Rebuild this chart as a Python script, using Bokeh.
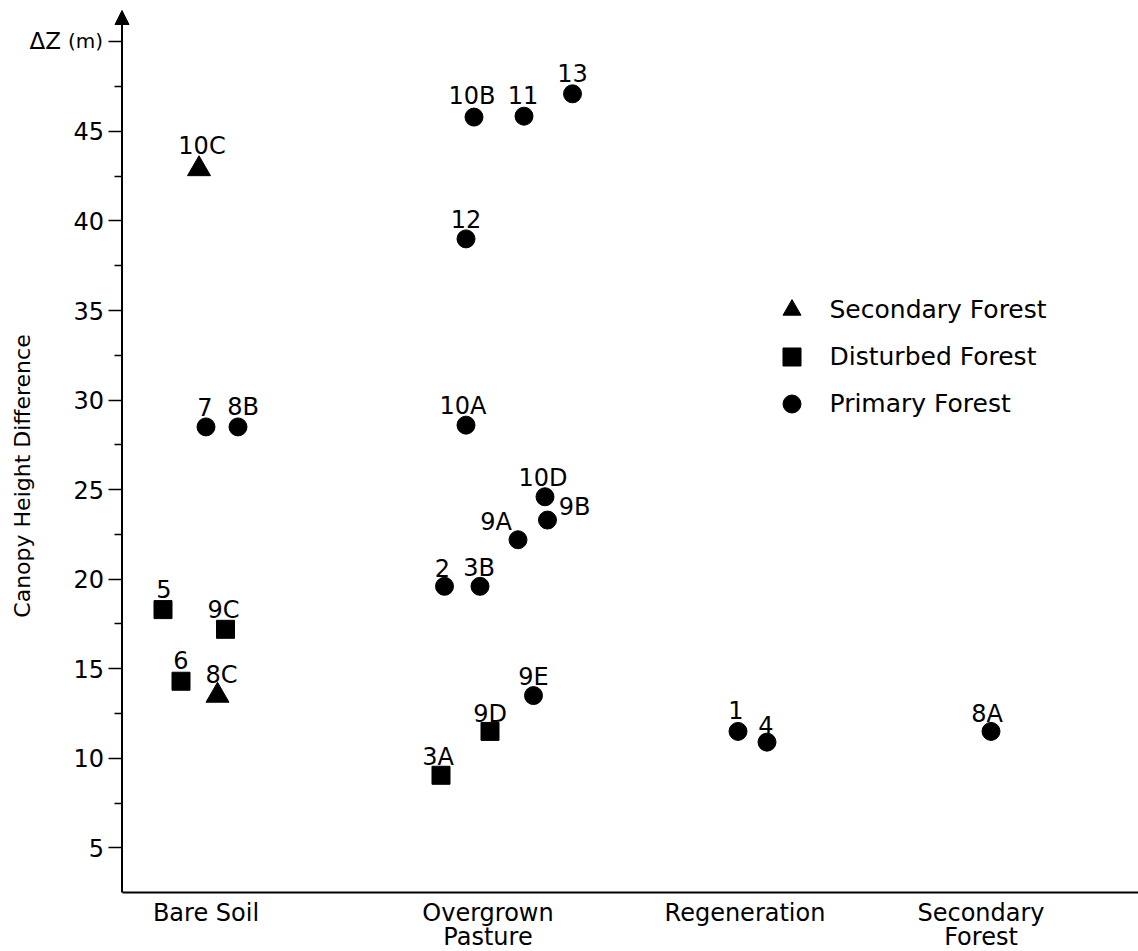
from bokeh.plotting import figure
from bokeh.models import (Range1d, FixedTicker, Legend, LegendItem, Arrow, NormalHead,
                          Label, ColumnDataSource)
from bokeh.core.properties import value
from bokeh.embed import file_html
from bokeh.resources import INLINE

# ---------------- data ----------------
categories = ["Bare Soil", "Overgrown\nPasture", "Regeneration", "Secondary\nForest"]
category_x = [0.84, 3.66, 6.23, 8.59]

sites = ["10C", "7", "8B", "5", "9C", "6", "8C",
         "10B", "11", "13", "12", "10A", "10D", "9B", "9A", "2", "3B", "9E", "9D", "3A",
         "1", "4", "8A"]
site_x = [0.77, 0.84, 1.16, 0.41, 1.035, 0.59, 0.955,
          3.52, 4.02, 4.505, 3.44, 3.44, 4.23, 4.255, 3.96, 3.225, 3.58, 4.115, 3.68, 3.19,
          6.16, 6.45, 8.69]
delta_z = [42.9, 28.5, 28.5, 18.3, 17.2, 14.3, 13.5,
           45.8, 45.85, 47.1, 39.0, 28.6, 24.6, 23.3, 22.2, 19.6, 19.6, 13.5, 11.5, 9.05,
           11.5, 10.9, 11.5]
forest = ["Secondary Forest", "Primary Forest", "Primary Forest", "Disturbed Forest",
          "Disturbed Forest", "Disturbed Forest", "Secondary Forest",
          "Primary Forest", "Primary Forest", "Primary Forest", "Primary Forest",
          "Primary Forest", "Primary Forest", "Primary Forest", "Primary Forest",
          "Primary Forest", "Primary Forest", "Primary Forest", "Disturbed Forest",
          "Disturbed Forest", "Primary Forest", "Primary Forest", "Primary Forest"]

y_ticks = [5, 10, 15, 20, 25, 30, 35, 40, 45, 50]
y_minor_ticks = [7.5, 12.5, 17.5, 22.5, 27.5, 32.5, 37.5, 42.5, 47.5]
y_axis_bottom = 2.5
y_axis_top = 51.75
x_axis_end = 10.165
legend_order = ["Secondary Forest", "Disturbed Forest", "Primary Forest"]

# ---------------- styles ----------------
FONT = "DejaVu Sans"
MARKERS = {"Secondary Forest": ("triangle", 23),
           "Disturbed Forest": ("square", 18),
           "Primary Forest": ("circle", 18)}
# label placement relative to marker, screen px (dx, dy)
LABEL_OFFSET = {"10C": (3, -23), "7": (-1, -20), "8B": (5, -20), "5": (1, -21),
                "9C": (-2, -19), "6": (0, -21), "8C": (4, -21),
                "10B": (-2, -21), "11": (-1, -21), "13": (0, -21), "12": (0, -20),
                "10A": (-3, -19), "10D": (-2, -19), "9B": (27, -13), "9A": (-22, -18),
                "2": (-2, -18), "3B": (-1, -18), "9E": (0, -19), "9D": (0, -17),
                "3A": (-3, -18), "1": (-2, -21), "4": (-1, -17), "8A": (-4, -17)}

p = figure(width=1138, height=951,
           x_range=Range1d(-1.215, 10.165), y_range=Range1d(-0.79, 52.31),
           output_backend="svg", toolbar_location=None,
           min_border_left=0, min_border_right=0, min_border_top=0, min_border_bottom=0)
p.background_fill_color = "white"
p.border_fill_color = "white"
p.outline_line_color = None
p.xgrid.visible = False
p.ygrid.visible = False

# y axis (line drawn by the arrow below)
ya = p.yaxis[0]
ya.fixed_location = 0
ya.ticker = FixedTicker(ticks=y_ticks, minor_ticks=y_minor_ticks)
ya.major_label_overrides = {50: ""}
ya.axis_line_color = None
ya.major_tick_line_width = 1.5
ya.minor_tick_line_width = 1.5
ya.major_tick_out = 14
ya.major_tick_in = 0
ya.minor_tick_out = 8
ya.minor_tick_in = 0
ya.major_label_standoff = 4
ya.major_label_text_font = FONT
ya.major_label_text_font_size = "24px"
ya.major_label_text_color = "black"
ya.axis_label = "Canopy Height Difference"
ya.axis_label_text_font = FONT
ya.axis_label_text_font_size = "22px"
ya.axis_label_text_font_style = "normal"
ya.axis_label_text_color = "black"
ya.axis_label_standoff = 36

# x axis
xa = p.xaxis[0]
xa.fixed_location = y_axis_bottom
xa.bounds = (0, x_axis_end)
xa.ticker = FixedTicker(ticks=category_x, minor_ticks=[])
xa.major_label_overrides = {x: c for x, c in zip(category_x, categories)}
xa.axis_line_width = 2
xa.axis_line_color = "black"
xa.major_tick_out = 0
xa.major_tick_in = 0
xa.minor_tick_out = 0
xa.minor_tick_in = 0
xa.major_label_standoff = 6
xa.major_label_text_font = FONT
xa.major_label_text_font_size = "24px"
xa.major_label_text_color = "black"
xa.major_label_text_line_height = 0.88

# y axis line with arrow head
p.add_layout(Arrow(end=NormalHead(size=14, fill_color="black", line_color="black"),
                   x_start=0, y_start=y_axis_bottom, x_end=0, y_end=y_axis_top,
                   line_width=2, line_color="black"))

# points, one renderer per forest type
legend_items = []
for ftype in legend_order:
    idx = [i for i, f in enumerate(forest) if f == ftype]
    src = ColumnDataSource(dict(x=[site_x[i] for i in idx], y=[delta_z[i] for i in idx]))
    marker, size = MARKERS[ftype]
    r = p.scatter("x", "y", source=src, marker=marker, size=size,
                  fill_color="black", line_color="black")
    legend_items.append(LegendItem(label=ftype, renderers=[r]))

# site labels
lab_src = ColumnDataSource(dict(
    x=site_x, y=delta_z, text=sites,
    dx=[LABEL_OFFSET[s][0] for s in sites],
    dy=[LABEL_OFFSET[s][1] for s in sites]))
p.text("x", "y", text="text", source=lab_src, x_offset="dx", y_offset="dy",
       text_font=value(FONT), text_font_size="24px", text_align="center",
       text_baseline="alphabetic", text_color="black")

legend = Legend(items=legend_items, location=(768.5, 525.5))
legend.glyph_width = 45
legend.glyph_height = 45
legend.spacing = 2
legend.padding = 0
legend.margin = 0
legend.label_standoff = 16
legend.label_text_font = FONT
legend.label_text_font_size = "25px"
legend.label_text_color = "black"
legend.border_line_color = None
legend.background_fill_alpha = 0
p.add_layout(legend, "center")

# axis unit label at the top tick
p.add_layout(Label(x=0, y=50, x_offset=-61, y_offset=1, text="ΔZ",
                   text_align="right", text_baseline="alphabetic",
                   text_font=FONT, text_font_size="23px", text_color="black"))
p.add_layout(Label(x=0, y=50, x_offset=-19, y_offset=1, text="(m)",
                   text_align="right", text_baseline="alphabetic",
                   text_font=FONT, text_font_size="20px", text_color="black"))

open("out.html", "w").write(file_html(p, INLINE))
